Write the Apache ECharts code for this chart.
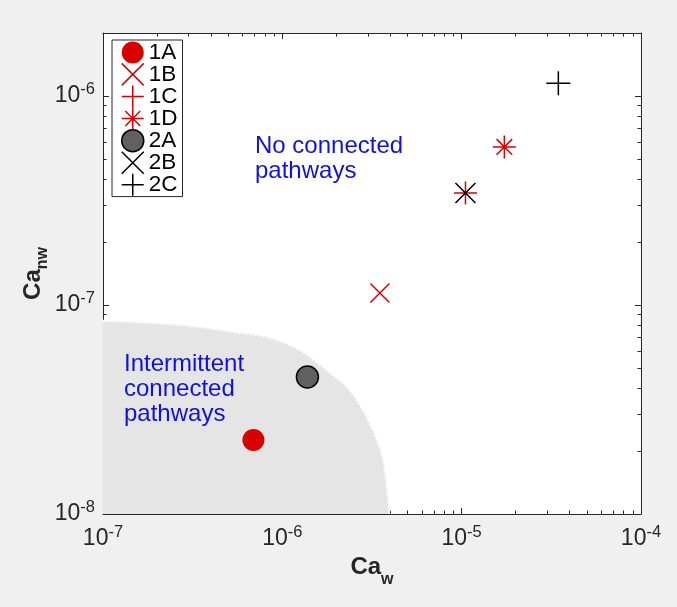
<!DOCTYPE html>
<html><head><meta charset="utf-8">
<script src="https://cdn.jsdelivr.net/npm/echarts@6/dist/echarts.min.js"></script>
<style>html,body{margin:0;padding:0;background:#f0f0f0}#c{width:677px;height:607px}</style>
</head><body><div id="c"></div>
<script>
// ---- data ----
const seriesNames = ['1A', '1B', '1C', '1D', '2A', '2B', '2C'];
const caW  = [6.9e-7, 3.5e-6, 1.05e-5, 1.73e-5, 1.38e-6, 1.05e-5, 3.46e-5];
const caNW = [2.26e-8, 1.14e-7, 3.43e-7, 5.7e-7, 4.52e-8, 3.43e-7, 1.15e-6];
// boundary of the "intermittent connected pathways" region
const regionW  = [1e-7, 1.47e-7, 2.27e-7, 3.47e-7, 5.3e-7, 8.2e-7, 1.25e-6, 1.91e-6, 2.37e-6, 2.95e-6, 3.62e-6, 3.96e-6];
const regionNW = [8.38e-8, 8.3e-8, 8.11e-8, 7.85e-8, 7.43e-8, 7.03e-8, 6.09e-8, 4.62e-8, 3.92e-8, 2.91e-8, 1.87e-8, 1e-8];
// ticks
const xMajorTicks = [1e-7, 1e-6, 1e-5, 1e-4];
const xMinorTicks = [2e-7, 3e-7, 4e-7, 5e-7, 6e-7, 7e-7, 8e-7, 9e-7,
                     2e-6, 3e-6, 4e-6, 5e-6, 6e-6, 7e-6, 8e-6, 9e-6,
                     2e-5, 3e-5, 4e-5, 5e-5, 6e-5, 7e-5, 8e-5, 9e-5];
const yMajorTicks = [1e-8, 1e-7, 1e-6];
const yMinorTicks = [2e-8, 3e-8, 4e-8, 5e-8, 6e-8, 7e-8, 8e-8, 9e-8,
                     2e-7, 3e-7, 4e-7, 5e-7, 6e-7, 7e-7, 8e-7, 9e-7];
const xRange = [1e-7, 1e-4];
const yRange = [1e-8, 2e-6];
const textNoConn = 'No connected\npathways';
const textInter = 'Intermittent\nconnected\npathways';

// ---- styles ----
const FONT = '"Liberation Sans", Arial, Helvetica, sans-serif';
const AX = '#262626';
const RED = '#d90000';
const BLUE = '#1010e0';
const P_X = 'path://M0,0L10,10M10,0L0,10';
const P_PLUS = 'path://M5,0L5,10M0,5L10,5';
const P_STAR = 'path://M5,0L5,10M0,5L10,5M1.6,1.6L8.4,8.4M8.4,1.6L1.6,8.4';
const markerStyle = {
  '1A': { symbol: 'circle', size: 22, item: { color: RED, borderWidth: 0 } },
  '1B': { symbol: P_X, size: 19, item: { color: 'rgba(0,0,0,0)', borderColor: RED, borderWidth: 1.5 } },
  '1C': { symbol: P_PLUS, size: 23, item: { color: 'rgba(0,0,0,0)', borderColor: RED, borderWidth: 1.5 } },
  '1D': { symbol: P_STAR, size: 23, item: { color: 'rgba(0,0,0,0)', borderColor: RED, borderWidth: 1.5 } },
  '2A': { symbol: 'circle', size: 22, item: { color: '#606060', borderColor: '#000', borderWidth: 1.5 } },
  '2B': { symbol: P_X, size: 20, item: { color: 'rgba(0,0,0,0)', borderColor: '#000', borderWidth: 1.5 } },
  '2C': { symbol: P_PLUS, size: 24, item: { color: 'rgba(0,0,0,0)', borderColor: '#000', borderWidth: 1.5 } }
};

const expOf = v => Math.round(Math.log(v) / Math.LN10);
const labelRich = {
  b: { fontSize: 23, fontFamily: FONT, color: AX },
  s: { fontSize: 16.5, fontFamily: FONT, color: AX, padding: [0, 0, 13, 0] }
};
const fmt = v => '{b|10}{s|' + expOf(v) + '}';

function xAxisDef(pos, major) {
  return {
    type: 'log', logBase: 10, min: xRange[0], max: xRange[1], position: pos,
    axisLine: { show: major, lineStyle: { color: AX, width: 1 } },
    axisTick: { show: true, inside: true, length: major ? 6 : 3.5, customValues: major ? xMajorTicks : xMinorTicks, lineStyle: { color: AX, width: 1 } },
    axisLabel: { show: major && pos === 'bottom', customValues: xMajorTicks, formatter: fmt, rich: labelRich, margin: 10 },
    splitLine: { show: false }, minorTick: { show: false }
  };
}
function yAxisDef(pos, major) {
  return {
    type: 'log', logBase: 10, min: yRange[0], max: yRange[1], position: pos,
    axisLine: { show: major, lineStyle: { color: AX, width: 1 } },
    axisTick: { show: true, inside: true, length: major ? 6 : 3.5, customValues: major ? yMajorTicks : yMinorTicks, lineStyle: { color: AX, width: 1 } },
    axisLabel: { show: major && pos === 'left', customValues: yMajorTicks, formatter: fmt, rich: labelRich, margin: 8 },
    splitLine: { show: false }, minorTick: { show: false }
  };
}

const xAxes = [xAxisDef('bottom', true), xAxisDef('bottom', false), xAxisDef('top', true), xAxisDef('top', false)];
const yAxes = [yAxisDef('left', true), yAxisDef('left', false), yAxisDef('right', true), yAxisDef('right', false)];
Object.assign(xAxes[0], {
  name: '{a|Ca}{s|w}', nameLocation: 'middle', nameGap: 32,
  nameTextStyle: { rich: {
    a: { fontSize: 24, fontWeight: 'bold', fontFamily: FONT, color: AX },
    s: { fontSize: 16, fontWeight: 'bold', fontFamily: FONT, color: AX, padding: [24, 0, 0, 0] } } }
});
Object.assign(yAxes[0], {
  name: '{a|Ca}{s|nw}', nameLocation: 'middle', nameGap: 52, nameRotate: 90, nameMoveOverlap: false,
  nameTextStyle: { rich: {
    a: { fontSize: 24, fontWeight: 'bold', fontFamily: FONT, color: AX },
    s: { fontSize: 16, fontWeight: 'bold', fontFamily: FONT, color: AX, padding: [20, 0, 0, 0] } } }
});

const series = [{
  name: 'region', type: 'line', xAxisIndex: 0, yAxisIndex: 0,
  data: regionW.map((w, i) => [w, regionNW[i]]),
  showSymbol: false, smooth: 0.3, silent: true, z: 1,
  lineStyle: { color: '#fbfbfb', width: 2.5, type: [2, 2] },
  areaStyle: { color: '#e5e5e5', opacity: 1, origin: 'start' }
}];
seriesNames.forEach((n, i) => {
  const m = markerStyle[n];
  series.push({
    name: n, type: 'scatter', xAxisIndex: 0, yAxisIndex: 0, z: 3,
    data: [[caW[i], caNW[i]]], symbol: m.symbol, symbolSize: m.size,
    itemStyle: Object.assign({ opacity: 1 }, m.item),
    emphasis: { disabled: true }, silent: true
  });
});

const chart = echarts.init(document.getElementById('c'), null, { renderer: 'canvas' });
chart.setOption({
  backgroundColor: '#f0f0f0',
  animation: false,
  grid: { left: 103, right: 36, top: 33, bottom: 93, show: true, backgroundColor: '#ffffff', borderWidth: 0 },
  xAxis: xAxes, yAxis: yAxes,
  legend: {
    data: seriesNames.map(n => ({ name: n, icon: markerStyle[n].symbol, itemStyle: markerStyle[n].item })),
    orient: 'vertical', left: 112, top: 40, itemWidth: 22, itemHeight: 22, itemGap: -1.4,
    padding: [1, 5, 0, 9], backgroundColor: '#ffffff', borderColor: AX, borderWidth: 1, borderRadius: 0,
    textStyle: { fontSize: 22.5, fontFamily: FONT, color: '#000', lineHeight: 22 },
    selectedMode: false
  },
  graphic: [
    { type: 'text', left: 255, top: 134, z: 10, style: { text: textNoConn, fill: BLUE, font: '24px ' + FONT, lineHeight: 25 } },
    { type: 'text', left: 124, top: 352, z: 10, style: { text: textInter, fill: BLUE, font: '24px ' + FONT, lineHeight: 25 } }
  ],
  series: series
});
</script></body></html>
